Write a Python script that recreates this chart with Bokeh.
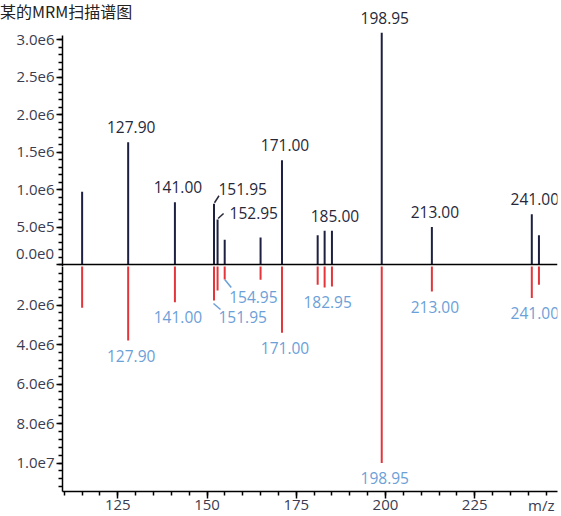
from bokeh.plotting import figure
from bokeh.layouts import column
from bokeh.models import (Range1d, FixedTicker, CustomJSTickFormatter, Span,
                          ColumnDataSource, Div)
from bokeh.core.properties import value
from bokeh.embed import file_html
from bokeh.resources import INLINE

# ---- data -------------------------------------------------------------
title_text = "某的MRM扫描谱图"
x_caption = "m/z"
zero_label = "0.0e0"
mz = [115.00, 127.90, 141.00, 151.95, 152.95, 154.95, 165.00, 171.00,
      181.00, 182.95, 185.00, 198.95, 213.00, 241.00, 243.00]
upper_intensity = [0.97e6, 1.63e6, 0.83e6, 0.81e6, 0.60e6, 0.33e6, 0.36e6,
                   1.39e6, 0.39e6, 0.45e6, 0.45e6, 3.09e6, 0.50e6, 0.67e6,
                   0.39e6]
lower_intensity = [2.14e6, 3.80e6, 1.86e6, 1.77e6, 1.27e6, 0.71e6, 0.72e6,
                   3.41e6, 0.98e6, 1.11e6, 1.06e6, 10.0e6, 1.32e6, 1.64e6,
                   0.98e6]
upper_labels = [127.90, 141.00, 171.00, 185.00, 198.95, 213.00, 241.00]
upper_leader_labels = [151.95, 152.95]
lower_labels = [127.90, 141.00, 171.00, 182.95, 198.95, 213.00, 241.00]
lower_leader_labels = [154.95, 151.95]

x_ticks = [125, 150, 175, 200, 225]
x_minor_ticks = [110 + 5 * i for i in range(28)]
upper_ticks = [0, 5e5, 1e6, 1.5e6, 2e6, 2.5e6, 3e6]
upper_minor_ticks = [1e5 * i for i in range(31)]
lower_ticks = [2e6, 4e6, 6e6, 8e6, 1e7]
lower_minor_ticks = [4e5 * i for i in range(29)]

# ---- layout / style ---------------------------------------------------
W, H = 561, 516
LEFT, RIGHT = 62, 4
X0, X1 = 109.5, 248.2
PX_PER_MZ = (W - LEFT - RIGHT) / (X1 - X0)
UP_PX = 75.0        # pixels per 1e6 counts, upper panel
LO_PX = 19.75       # pixels per 1e6 counts, lower panel
BASE_Y = 264        # baseline row in the page
TOP_H = 266
BOT_H = H - TOP_H
BOT_MARGIN = 25

FONT = "Open Sans"
NAVY = "#1d2040"
RED = "#e2363b"
DARK_TXT = "#26283a"
BLUE_TXT = "#6ca0d8"
TICK_TXT = "#3a3c50"
PEAK_FS = "15.5px"
TICK_FS = "15px"

lookup_up = dict(zip(mz, upper_intensity))
lookup_lo = dict(zip(mz, lower_intensity))

xr = Range1d(X0, X1)


def style_axis(ax, ticks, minor, tick_out):
    ax.ticker = FixedTicker(ticks=ticks, minor_ticks=minor)
    ax.axis_line_color = "black"
    ax.axis_line_width = 1.5
    ax.major_tick_line_color = "black"
    ax.major_tick_line_width = 1.5
    ax.minor_tick_line_color = "black"
    ax.minor_tick_line_width = 1.5
    ax.major_tick_out = tick_out
    ax.major_tick_in = 0
    ax.minor_tick_out = 4
    ax.minor_tick_in = 0
    ax.major_label_text_font = FONT
    ax.major_label_text_font_size = TICK_FS
    ax.major_label_text_color = TICK_TXT


def style_y_axis(ax, ticks, minor, bounds=None):
    style_axis(ax, ticks, minor, 6)
    ax.formatter = CustomJSTickFormatter(
        code="return tick == 0 ? '' : tick.toExponential(1).replace('+', '');")
    ax.major_label_standoff = 2
    if bounds is not None:
        ax.bounds = bounds


# ---- upper panel ------------------------------------------------------
top = figure(width=W, height=TOP_H, x_range=xr,
             y_range=Range1d(-(TOP_H - BASE_Y) / UP_PX * 1e6,
                             BASE_Y / UP_PX * 1e6),
             output_backend="svg", toolbar_location=None,
             x_axis_location=None, min_border_left=LEFT,
             min_border_right=RIGHT, min_border_top=0, min_border_bottom=0,
             outline_line_color=None, background_fill_color="white")
top.xgrid.visible = False
top.ygrid.visible = False
style_y_axis(top.yaxis[0], upper_ticks, upper_minor_ticks,
             bounds=(-0.02e6, 3.05e6))

top.segment(x0=mz, y0=[0] * len(mz), x1=mz, y1=upper_intensity,
            line_color=NAVY, line_width=2)
top.add_layout(Span(location=0, dimension="width", line_color="black",
                    line_width=1.5))

src_up = ColumnDataSource(dict(
    x=upper_labels, y=[lookup_up[m] for m in upper_labels],
    t=[f"{m:.2f}" for m in upper_labels]))
top.text(x="x", y="y", text="t", source=src_up, x_offset=3, y_offset=-15,
         text_align="center", text_baseline="middle",
         text_font=value(FONT), text_font_size=PEAK_FS, text_color=DARK_TXT)

# leader-line labels (pixel offsets: line start, line end, text anchor)
up_leaders = {151.95: ((0.5, -1), (5, -8), (4.5, -15)),
              152.95: ((0.5, -1), (6, -6), (12, -7))}
lx0, ly0, lx1, ly1, tx, ty, tt = [], [], [], [], [], [], []
for m in upper_leader_labels:
    (a, b), (c, d), (e, f) = up_leaders[m]
    yv = lookup_up[m]
    lx0.append(m + a / PX_PER_MZ); ly0.append(yv - b / UP_PX * 1e6)
    lx1.append(m + c / PX_PER_MZ); ly1.append(yv - d / UP_PX * 1e6)
    tx.append(m + e / PX_PER_MZ); ty.append(yv - f / UP_PX * 1e6)
    tt.append(f"{m:.2f}")
top.segment(x0=lx0, y0=ly0, x1=lx1, y1=ly1, line_color=DARK_TXT,
            line_width=1.5)
top.text(x=tx, y=ty, text=tt, text_align="left", text_baseline="middle",
         text_font=value(FONT), text_font_size=PEAK_FS, text_color=DARK_TXT)

# ---- lower panel ------------------------------------------------------
lo_top = (TOP_H - BASE_Y - 1) / LO_PX * 1e6
lo_bot = lo_top + (BOT_H - BOT_MARGIN) / LO_PX * 1e6
bot = figure(width=W, height=BOT_H, x_range=xr,
             y_range=Range1d(lo_bot, lo_top),
             output_backend="svg", toolbar_location=None,
             min_border_left=LEFT, min_border_right=RIGHT, min_border_top=0,
             min_border_bottom=BOT_MARGIN, outline_line_color=None,
             background_fill_color="white")
bot.xgrid.visible = False
bot.ygrid.visible = False
style_y_axis(bot.yaxis[0], lower_ticks, lower_minor_ticks)

xa = bot.xaxis[0]
style_axis(xa, x_ticks, x_minor_ticks, 7)
xa.major_label_standoff = 1

bot.segment(x0=mz, y0=[0] * len(mz), x1=mz, y1=lower_intensity,
            line_color=RED, line_width=2)

src_lo = ColumnDataSource(dict(
    x=lower_labels, y=[lookup_lo[m] for m in lower_labels],
    t=[f"{m:.2f}" for m in lower_labels]))
bot.text(x="x", y="y", text="t", source=src_lo, x_offset=3, y_offset=15,
         text_align="center", text_baseline="middle",
         text_font=value(FONT), text_font_size=PEAK_FS, text_color=BLUE_TXT)

lo_leaders = {154.95: ((0, 0), (6.5, 8), (4.5, 17)),
              151.95: ((-0.5, 3), (6.5, 9), (4.5, 17))}
lx0, ly0, lx1, ly1, tx, ty, tt = [], [], [], [], [], [], []
for m in lower_leader_labels:
    (a, b), (c, d), (e, f) = lo_leaders[m]
    yv = lookup_lo[m]
    lx0.append(m + a / PX_PER_MZ); ly0.append(yv + b / LO_PX * 1e6)
    lx1.append(m + c / PX_PER_MZ); ly1.append(yv + d / LO_PX * 1e6)
    tx.append(m + e / PX_PER_MZ); ty.append(yv + f / LO_PX * 1e6)
    tt.append(f"{m:.2f}")
bot.segment(x0=lx0, y0=ly0, x1=lx1, y1=ly1, line_color=BLUE_TXT,
            line_width=1.5)
bot.text(x=tx, y=ty, text=tt, text_align="left", text_baseline="middle",
         text_font=value(FONT), text_font_size=PEAK_FS, text_color=BLUE_TXT)

# ---- free texts outside the plot frames (title, zero tick, axis caption) --
caption_x = LEFT + (243.7 - X0) * PX_PER_MZ
overlay_html = f"""
<div style="position:relative;width:{W}px;height:{H}px;font-family:'{FONT}';">
  <div style="position:absolute;left:0px;top:1px;white-space:nowrap;
              font:16px 'Noto Sans CJK SC';line-height:20px;color:#222222;">
    {title_text}</div>
  <div style="position:absolute;right:{W - (LEFT - 8)}px;top:{BASE_Y - 20}px;
              white-space:nowrap;font-size:{TICK_FS};line-height:18px;
              color:{TICK_TXT};">{zero_label}</div>
  <div style="position:absolute;left:{caption_x - 13:.0f}px;top:{H - 20}px;
              white-space:nowrap;font-size:{TICK_FS};line-height:18px;
              color:{TICK_TXT};">{x_caption}</div>
</div>
"""
overlay = Div(text=overlay_html, width=W, height=H, margin=0,
              styles={"position": "absolute", "top": "0px", "left": "0px",
                      "z-index": "5", "pointer-events": "none"})

layout = column(top, bot, overlay, spacing=0)
open("out.html", "w").write(file_html(layout, INLINE))
